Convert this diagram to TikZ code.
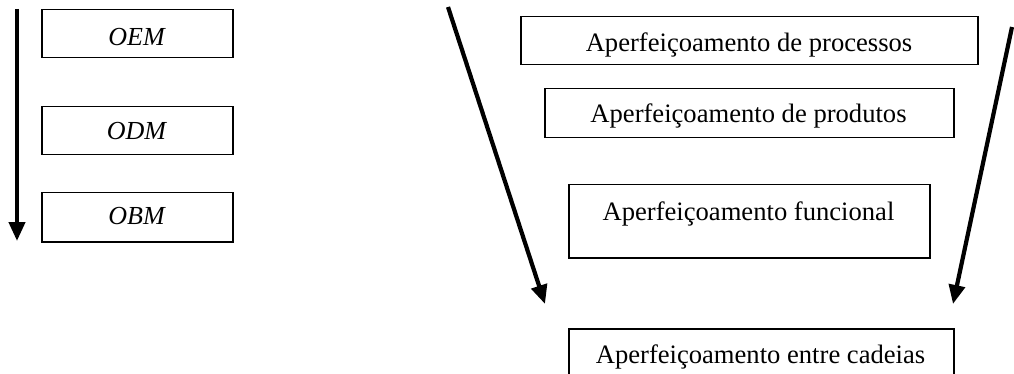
\documentclass[tikz,border=0pt]{standalone}
\usepackage{fontspec}
\setmainfont{Liberation Serif}
\usetikzlibrary{arrows.meta}
\begin{document}
\begin{tikzpicture}[x=1pt,y=-1pt,
  box/.style={draw,line width=1.5pt,rectangle,anchor=north west,inner sep=0pt},
  lbl/.style={anchor=base,inner sep=0pt,font=\fontsize{26.6}{30}\selectfont},
  ilbl/.style={anchor=base,inner sep=0pt,font=\fontsize{26}{30}\selectfont\itshape},
  bigarrow/.style={line width=4.2pt,-{Triangle[width=16pt,length=19pt]}}]
\clip (0,0) rectangle (1014,374);
\fill[white] (0,0) rectangle (1014,374);
% left column
\node[box,minimum width=191pt,minimum height=48pt] (oem) at (41,9) {};
\node[box,minimum width=191pt,minimum height=48pt] (odm) at (41,106) {};
\node[box,minimum width=191pt,minimum height=49pt] (obm) at (41,192) {};
\node[ilbl] (toem) at (136.5,46) {OEM};
\node[ilbl] (todm) at (136.5,140) {ODM};
\node[ilbl] (tobm) at (136.5,225) {OBM};
\coordinate (ls) at (17,9);
\coordinate (le) at (17,241);
\draw[bigarrow] (ls) -- (le);
% right column
\node[box,minimum width=457pt,minimum height=48pt] (proc) at (520,16) {};
\node[box,minimum width=409pt,minimum height=49pt] (prod) at (544,88) {};
\node[box,minimum width=361pt,minimum height=73pt] (func) at (568,184) {};
\node[box,minimum width=385pt,minimum height=73pt] (cad) at (568,328) {};
\node[lbl] (tproc) at (749,52) {Aperfeiçoamento de processos};
\node[lbl] (tprod) at (748.5,123) {Aperfeiçoamento de produtos};
\node[lbl] (tfunc) at (748.5,220) {Aperfeiçoamento funcional};
\node[lbl] (tcad) at (760.5,363) {Aperfeiçoamento entre cadeias};
% converging arrows
\coordinate (as) at (448,7);
\coordinate (ae) at (545,304);
\coordinate (bs) at (1012,27);
\coordinate (be) at (953,304);
\draw[bigarrow] (as) -- (ae);
\draw[bigarrow] (bs) -- (be);
\end{tikzpicture}
\end{document}
